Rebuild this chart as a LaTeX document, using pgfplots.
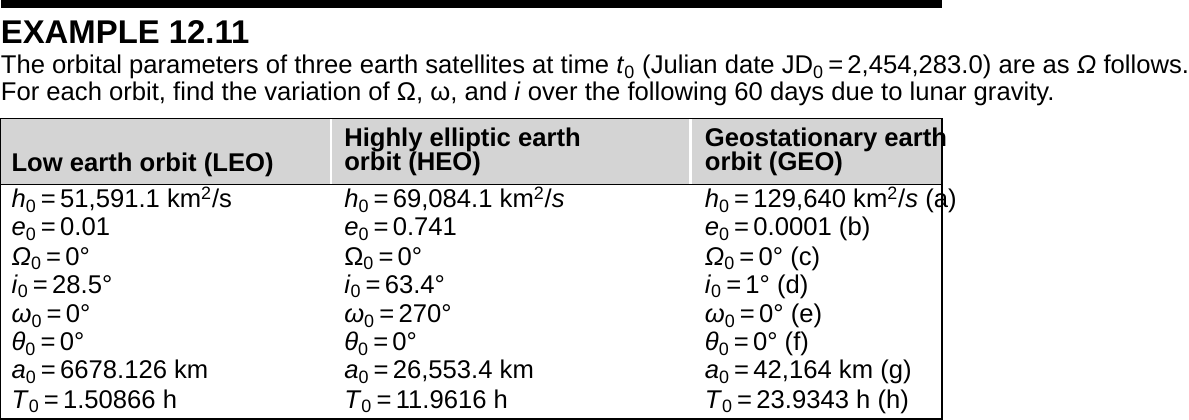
\documentclass[border=0pt]{standalone}
\usepackage{pgfplots}
\pgfplotsset{compat=1.18}
\usepackage{fontspec}
\setmainfont{Liberation Sans}
\definecolor{hdr}{RGB}{212,212,212}
\newcommand{\s}[1]{\textsubscript{#1}}
\newcommand{\T}[3]{\node[anchor=base west,inner sep=0pt,font=\fontsize{15.6}{18}\selectfont] at (axis cs:#1,#2) {#3};}
\newcommand{\B}[3]{\node[anchor=base west,inner sep=0pt,font=\fontsize{15.6}{18}\selectfont\bfseries] at (axis cs:#1,#2) {#3};}
\begin{document}
\begin{tikzpicture}
\begin{axis}[width=594.5pt,height=265.5pt,scale only axis,xmin=0,xmax=1189,ymin=0,ymax=531,y dir=reverse,axis lines=none,clip=false]
\fill[black] (axis cs:20,4) rectangle (axis cs:1166,14);
\node[anchor=base west,inner sep=0pt,font=\fontsize{20}{22}\selectfont\bfseries] at (axis cs:20,57) {EXAMPLE 12.11};
\T{20}{94}{The orbital parameters of three earth satellites at time \textit{t}\s{0} (Julian date JD\s{0}\,=\,2,454,283.0) are as \textit{Ω} follows.}
\T{20}{126}{For each orbit, find the variation of Ω, ω, and \textit{i} over the following 60 days due to lunar gravity.}
\fill[hdr] (axis cs:20,148) rectangle (axis cs:1166,228);
\draw[white,line width=1.5pt] (axis cs:422,148) -- (axis cs:422,228);
\draw[white,line width=1.5pt] (axis cs:860,148) -- (axis cs:860,228);
\draw[black,line width=0.7pt] (axis cs:20,148) rectangle (axis cs:1166,514);
\draw[black,line width=0.7pt] (axis cs:20,229) -- (axis cs:1166,229);
\B{33}{213}{Low earth orbit (LEO)}
\B{438}{182}{Highly elliptic earth}
\B{438}{211}{orbit (HEO)}
\B{877}{182}{Geostationary earth}
\B{877}{211}{orbit (GEO)}
\T{33}{257}{\textit{h}\s{0}\,=\,51,591.1 km\textsuperscript{2}/s}
\T{33}{291}{\textit{e}\s{0}\,=\,0.01}
\T{33}{327}{\textit{Ω}\s{0}\,=\,0°}
\T{33}{361}{\textit{i}\s{0}\,=\,28.5°}
\T{33}{397}{\textit{ω}\s{0}\,=\,0°}
\T{33}{431}{\textit{θ}\s{0}\,=\,0°}
\T{33}{465}{\textit{a}\s{0}\,=\,6678.126 km}
\T{33}{501}{\textit{T}\s{0}\,=\,1.50866 h}
\T{438}{257}{\textit{h}\s{0}\,=\,69,084.1 km\textsuperscript{2}/\textit{s}}
\T{438}{291}{\textit{e}\s{0}\,=\,0.741}
\T{438}{327}{Ω\s{0}\,=\,0°}
\T{438}{361}{\textit{i}\s{0}\,=\,63.4°}
\T{438}{397}{\textit{ω}\s{0}\,=\,270°}
\T{438}{431}{\textit{θ}\s{0}\,=\,0°}
\T{438}{465}{\textit{a}\s{0}\,=\,26,553.4 km}
\T{438}{501}{\textit{T}\s{0}\,=\,11.9616 h}
\T{877}{257}{\textit{h}\s{0}\,=\,129,640 km\textsuperscript{2}/\textit{s} (a)}
\T{877}{291}{\textit{e}\s{0}\,=\,0.0001 (b)}
\T{877}{327}{\textit{Ω}\s{0}\,=\,0° (c)}
\T{877}{361}{\textit{i}\s{0}\,=\,1° (d)}
\T{877}{397}{\textit{ω}\s{0}\,=\,0° (e)}
\T{877}{431}{\textit{θ}\s{0}\,=\,0° (f)}
\T{877}{465}{\textit{a}\s{0}\,=\,42,164 km (g)}
\T{877}{501}{\textit{T}\s{0}\,=\,23.9343 h (h)}
\end{axis}
\end{tikzpicture}
\end{document}
